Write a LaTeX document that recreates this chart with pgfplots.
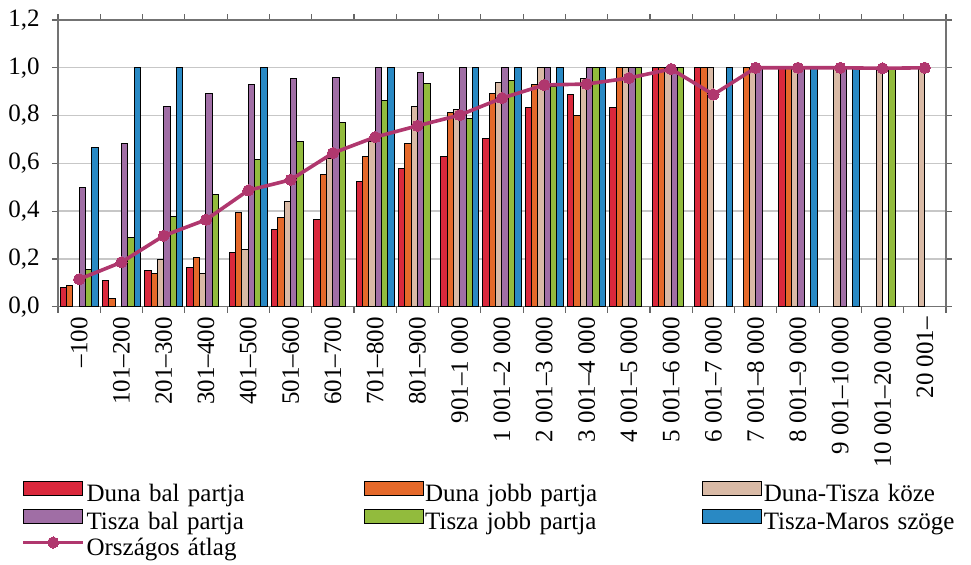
\documentclass[border=0pt]{standalone}
\usepackage{fontspec}
\setmainfont{Liberation Serif}
\usepackage{pgfplots}
\pgfplotsset{compat=1.18}
\definecolor{cRed}{RGB}{218,40,60}
\definecolor{cOrange}{RGB}{229,105,42}
\definecolor{cBeige}{RGB}{217,186,166}
\definecolor{cPurple}{RGB}{160,110,165}
\definecolor{cGreen}{RGB}{146,187,61}
\definecolor{cBlue}{RGB}{41,137,196}
\definecolor{cLine}{RGB}{176,55,110}
\pgfplotsset{
  barlegend/.style={legend image code/.code={\draw[##1,line width=0.5pt] (0pt,0pt) rectangle (29.5pt,7.3pt);}},
  linelegend/.style={legend image code/.code={\draw[##1, mark repeat=2, mark phase=2] plot coordinates {(0pt,3.3pt)(15pt,3.3pt)(30pt,3.3pt)};}},
}
\begin{document}
\begin{tikzpicture}
\useasboundingbox (0pt,0pt) rectangle (485.5pt,282pt);
\begin{axis}[
  at={(29pt,128.65pt)}, anchor=south west,
  scale only axis, width=444pt, height=143.35pt,
  font=\fontsize{12.5}{14}\selectfont,
  ybar=0pt, bar width=0.15,
  xmin=-0.5, xmax=20.5, ymin=0, ymax=1.2,
  ytick={0,0.2,0.4,0.6,0.8,1.0,1.2},
  yticklabels={{0,0},{0,2},{0,4},{0,6},{0,8},{1,0},{1,2}},
  yticklabel style={inner xsep=0pt, xshift=-6pt},
  ymajorgrids, grid style={draw=black!22, line width=0.7pt},
  axis line style={draw=black!55, line width=0.6pt},
  tick style={draw=black!60, line width=0.6pt},
  tick align=outside, major tick length=3pt,
  xtick={-0.5,0.5,...,20.5}, xticklabels={},
  extra x ticks={0,1,...,20},
  extra x tick labels={–100,101–200,201–300,301–400,401–500,501–600,601–700,701–800,801–900,901–1~000,1~001–2~000,2~001–3~000,3~001–4~000,4~001–5~000,5~001–6~000,6~001–7~000,7~001–8~000,8~001–9~000,9~001–10~000,10~001–20~000,20~001–},
  extra x tick style={major tick length=0pt, grid=none,
     xticklabel style={rotate=90, anchor=east, inner xsep=5pt, inner ysep=0pt}},
  every axis plot/.append style={draw=black, line width=0.5pt},
  legend columns=3,
  legend style={at={(-0.0417,-0.6055)}, anchor=north west, draw=none, fill=none,
     inner sep=0pt, row sep=0.5pt,
     nodes={inner sep=0pt, text height=9pt, text depth=3pt, text width=136pt, align=left},
     /tikz/every odd column/.append style={column sep=0.8pt},
     /tikz/every even column/.append style={column sep=2.5pt}},
  legend cell align=left,
  barlegend,
]
\addplot[fill=cRed] coordinates {(0,0.081)(1,0.109)(2,0.151)(3,0.165)(4,0.228)(5,0.322)(6,0.366)(7,0.523)(8,0.580)(9,0.629)(10,0.702)(11,0.835)(12,0.889)(13,0.835)(14,1)(15,1)(17,1)};
\addlegendentry{Duna bal partja}
\addplot[fill=cOrange] coordinates {(0,0.088)(1,0.035)(2,0.138)(3,0.207)(4,0.396)(5,0.372)(6,0.552)(7,0.627)(8,0.683)(9,0.811)(10,0.893)(11,0.93)(12,0.80)(13,1)(14,1)(15,1)(16,1)(17,1)};
\addlegendentry{Duna jobb partja}
\addplot[fill=cBeige] coordinates {(2,0.199)(3,0.141)(4,0.238)(5,0.441)(6,0.62)(7,0.69)(8,0.84)(9,0.824)(10,0.937)(11,1)(12,0.957)(13,1)(14,1)(15,1)(16,1)(17,1)(18,1)(19,1)(20,1)};
\addlegendentry{Duna-Tisza köze}
\addplot[fill=cPurple] coordinates {(0,0.497)(1,0.685)(2,0.836)(3,0.891)(4,0.930)(5,0.955)(6,0.958)(7,1)(8,0.982)(9,1)(10,1)(11,1)(12,1)(13,1)(14,1)(16,1)(17,1)(18,1)};
\addlegendentry{Tisza bal partja}
\addplot[fill=cGreen] coordinates {(0,0.154)(1,0.29)(2,0.378)(3,0.469)(4,0.618)(5,0.690)(6,0.772)(7,0.863)(8,0.933)(9,0.786)(10,0.948)(11,0.92)(12,1)(13,1)(14,1)(19,1)};
\addlegendentry{Tisza jobb partja}
\addplot[fill=cBlue] coordinates {(0,0.667)(1,1)(2,1)(4,1)(7,1)(9,1)(10,1)(11,1)(12,1)(15,1)(17,1)(18,1)};
\addlegendentry{Tisza-Maros szöge}
\addplot[sharp plot, draw=cLine, line width=1.8pt, mark=*, mark size=2.8pt,
   mark options={fill=cLine, draw=cLine, line width=0pt}, linelegend]
 coordinates {(0,0.115)(1,0.186)(2,0.297)(3,0.364)(4,0.487)(5,0.531)(6,0.643)(7,0.710)(8,0.757)(9,0.802)(10,0.873)(11,0.928)(12,0.932)(13,0.957)(14,0.995)(15,0.888)(16,1)(17,1)(18,1)(19,0.998)(20,1)};
\addlegendentry{Országos átlag}
\end{axis}
\end{tikzpicture}
\end{document}
